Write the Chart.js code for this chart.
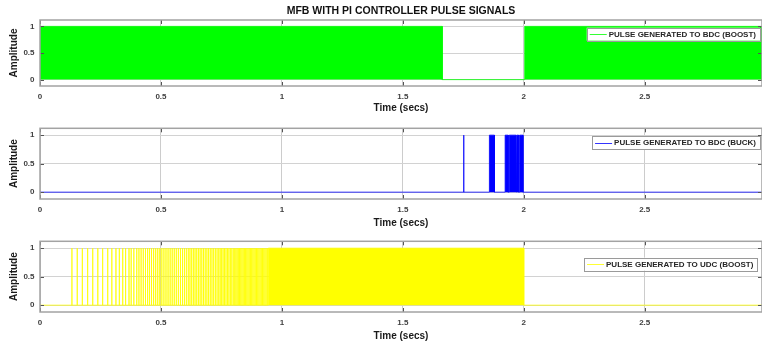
<!DOCTYPE html>
<html>
<head>
<meta charset="utf-8">
<script src="https://cdn.jsdelivr.net/npm/chart.js@4.4.1/dist/chart.umd.min.js"></script>
<style>
  html, body { margin: 0; padding: 0; background: #fff; overflow: hidden; }
  #wrap { position: relative; width: 762px; height: 347px; }
  canvas { position: absolute; left: 0; }
</style>
</head>
<body>
<div id="wrap">
  <canvas id="c1" width="762" height="116" style="top:0px"></canvas>
  <canvas id="c2" width="762" height="111" style="top:118px"></canvas>
  <canvas id="c3" width="762" height="111" style="top:231px"></canvas>
</div>
<script>
const X_MAX = 2.985;
const xTicks = [0, 0.5, 1, 1.5, 2, 2.5];
const yTicks = [0, 0.5, 1];

// pulse to BDC (boost): switching so fast it reads as solid bands [start, end]
const bdcBoostSpikes = [];
const bdcBoostBands = [[0, 1.663], [2.004, X_MAX]];

// pulse to BDC (buck)
const bdcBuckSpikes = [1.752];
const bdcBuckBands = [[1.858, 1.879], [1.923, 1.936], [1.940, 1.968], [1.972, 1.979], [1.983, 1.997]];

// pulse to UDC (boost): single pulses getting denser, then a solid band
const udcBoostSpikes = [
  0.132, 0.154, 0.175, 0.197, 0.218, 0.239, 0.259, 0.280, 0.297, 0.314, 0.328, 0.342,
  0.354, 0.368, 0.377, 0.388, 0.400, 0.409, 0.418, 0.427, 0.436, 0.445, 0.453, 0.461,
  0.469, 0.477, 0.485, 0.493, 0.501, 0.509, 0.517, 0.525, 0.533, 0.541, 0.549, 0.557,
  0.565, 0.573, 0.581, 0.589, 0.597, 0.605, 0.613, 0.620, 0.627, 0.634, 0.641, 0.648,
  0.655, 0.662, 0.669, 0.676, 0.683, 0.690, 0.697, 0.704, 0.711, 0.718, 0.725, 0.732,
  0.739, 0.745, 0.751, 0.757, 0.763, 0.769, 0.775, 0.781, 0.787, 0.793, 0.799, 0.805,
  0.810, 0.815, 0.820, 0.825, 0.830, 0.835, 0.840, 0.845, 0.850, 0.855, 0.860, 0.865,
  0.870, 0.875, 0.880, 0.885, 0.890, 0.895, 0.900, 0.905, 0.910, 0.915, 0.920, 0.925,
  0.930, 0.935, 0.940
];
const udcBoostBands = [[0.944, 2.0]];

function pulseTrain(spikes, bands) {
  const events = spikes.map(t => [t, t]).concat(bands).sort((a, b) => a[0] - b[0]);
  const pts = [{x: 0, y: 0}];
  events.forEach(([a, b]) => {
    pts.push({x: a, y: 0}, {x: a, y: 1}, {x: b, y: 1}, {x: b, y: 0});
  });
  pts.push({x: X_MAX, y: 0});
  return pts;
}

const FONT = "'Liberation Sans', Arial, Helvetica, sans-serif";

// box around the axes, inward ticks, legend and (first plot) title
const frame = {
  id: 'frame',
  afterDraw(chart, args, o) {
    const {ctx, chartArea: a, scales} = chart;
    ctx.save();
    // inward ticks
    ctx.strokeStyle = '#555';
    ctx.lineWidth = 1;
    ctx.beginPath();
    xTicks.forEach(v => {
      const px = Math.round(scales.x.getPixelForValue(v)) + 0.5;
      ctx.moveTo(px, a.bottom); ctx.lineTo(px, a.bottom - 4);
      ctx.moveTo(px, a.top); ctx.lineTo(px, a.top + 4);
    });
    yTicks.forEach(v => {
      const py = Math.round(scales.y.getPixelForValue(v)) + 0.5;
      ctx.moveTo(a.left, py); ctx.lineTo(a.left + 4, py);
      ctx.moveTo(a.right, py); ctx.lineTo(a.right - 4, py);
    });
    ctx.stroke();
    // box
    ctx.strokeStyle = '#a3a3a3';
    ctx.lineWidth = 1.5;
    ctx.strokeRect(a.left, a.top, a.right - a.left, a.bottom - a.top);

    // legend
    ctx.font = 'bold 8px ' + FONT;
    const tw = ctx.measureText(o.label).width;
    const boxR = a.right - o.rightGap;
    const textX = boxR - 4 - tw;
    const lineX0 = textX - 19, lineX1 = textX - 2;
    const boxL = lineX0 - 3;
    const boxT = a.top + o.topGap, boxH = 13;
    ctx.fillStyle = '#fff';
    ctx.fillRect(boxL, boxT, boxR - boxL, boxH);
    ctx.strokeStyle = '#9a9a9a';
    ctx.lineWidth = 1;
    ctx.strokeRect(Math.round(boxL) + 0.5, Math.round(boxT) + 0.5, Math.round(boxR - boxL), boxH);
    ctx.strokeStyle = o.color;
    ctx.lineWidth = 0.8;
    ctx.beginPath();
    ctx.moveTo(lineX0, Math.round(boxT + boxH / 2) + 0.5);
    ctx.lineTo(lineX1, Math.round(boxT + boxH / 2) + 0.5);
    ctx.stroke();
    ctx.fillStyle = '#262626';
    ctx.textBaseline = 'middle';
    ctx.textAlign = 'left';
    ctx.fillText(o.label, textX, boxT + boxH / 2 + 0.5);

    if (o.title) {
      ctx.font = 'bold 10.5px ' + FONT;
      ctx.textAlign = 'center';
      ctx.fillStyle = '#111';
      ctx.fillText(o.title, (a.left + a.right) / 2, 11.5);
    }
    ctx.restore();
  }
};

function makeChart(id, cfg) {
  return new Chart(document.getElementById(id), {
    type: 'line',
    data: {
      datasets: [{
        label: cfg.label,
        data: cfg.data,
        borderColor: cfg.color,
        backgroundColor: cfg.color,
        borderWidth: 0.8,
        pointRadius: 0,
        tension: 0,
        fill: 'origin'
      }]
    },
    options: {
      responsive: false,
      animation: false,
      events: [],
      layout: { padding: { top: cfg.padTop, left: 0, right: 0, bottom: 0 } },
      plugins: {
        legend: { display: false },
        tooltip: { enabled: false },
        frame: { label: cfg.label, color: cfg.color, rightGap: cfg.rightGap, topGap: cfg.topGap, title: cfg.title }
      },
      scales: {
        x: {
          type: 'linear',
          min: 0,
          max: X_MAX,
          afterBuildTicks: s => { s.ticks = xTicks.map(v => ({value: v})); },
          afterFit: s => { s.height = 30; },
          grid: { color: '#cccccc', drawTicks: false },
          border: { display: false },
          ticks: { padding: 6, autoSkip: false, maxRotation: 0, color: '#404040',
                   font: { family: FONT, size: 8, weight: 'bold' }, callback: v => String(v) },
          title: { display: true, text: 'Time (secs)', color: '#1a1a1a', padding: { top: 0, bottom: cfg.xTitleLift },
                   font: { family: FONT, size: 10, weight: 'bold' } }
        },
        y: {
          min: -0.12,
          max: 1.12,
          afterBuildTicks: s => { s.ticks = yTicks.map(v => ({value: v})); },
          afterFit: s => { s.width = 40; },
          grid: { color: '#d2d2d2', drawTicks: false },
          border: { display: false },
          ticks: { padding: 5.5, color: '#404040',
                   font: { family: FONT, size: 8, weight: 'bold' }, callback: v => String(v) },
          title: { display: true, text: 'Amplitude', color: '#1a1a1a', padding: { top: 8.5, bottom: 0 },
                   font: { family: FONT, size: 10, weight: 'bold' } }
        }
      }
    },
    plugins: [frame]
  });
}

makeChart('c1', {
  label: 'PULSE GENERATED TO BDC (BOOST)', color: '#00ff00',
  data: pulseTrain(bdcBoostSpikes, bdcBoostBands),
  padTop: 20, rightGap: 2, topGap: 7.7, xTitleLift: 1.5, title: 'MFB WITH PI CONTROLLER PULSE SIGNALS'
});
makeChart('c2', {
  label: 'PULSE GENERATED TO BDC (BUCK)', color: '#0000ff',
  data: pulseTrain(bdcBuckSpikes, bdcBuckBands),
  padTop: 6, rightGap: 2, topGap: 7.7, xTitleLift: 0
});
makeChart('c3', {
  label: 'PULSE GENERATED TO UDC (BOOST)', color: '#ffff00',
  data: pulseTrain(udcBoostSpikes, udcBoostBands),
  padTop: 6, rightGap: 4.7, topGap: 16.3, xTitleLift: 0
});
</script>
</body>
</html>
